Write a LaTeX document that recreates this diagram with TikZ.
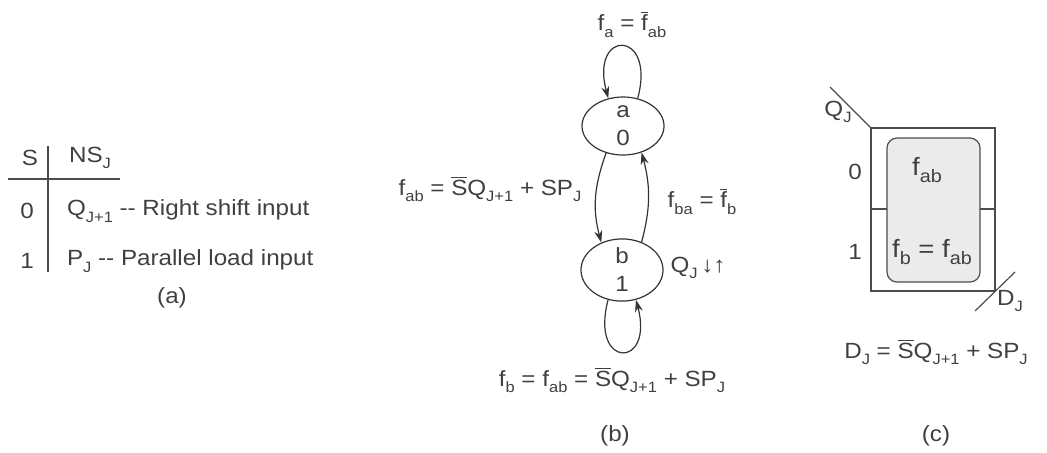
\documentclass[tikz,border=0pt]{standalone}
\usepackage{fontspec}
\setmainfont{Liberation Sans}[FakeStretch=1.1]
\usetikzlibrary{arrows.meta, positioning, shapes.geometric}

\newcommand{\sbar}[1]{$\overline{\mbox{#1}}$}
\newcommand{\sub}[1]{\raisebox{-0.55ex}{\fontsize{7.5}{8}\selectfont #1}}

\begin{document}
\begin{tikzpicture}[
    x=0.5pt, y=-0.5pt,
    every node/.style={font=\fontsize{11}{13}\selectfont, text=black!75},
    state/.style={ellipse, draw=black!80, line width=0.6pt, inner sep=0pt, minimum width=41pt,
                  minimum height=29pt, align=center, font=\fontsize{11}{14}\selectfont},
    arr/.style={-{Stealth[length=6pt, width=4pt]}, draw=black!80, line width=0.6pt},
    kline/.style={draw=black!70, line width=0.6pt}
]
\useasboundingbox (0,0) rectangle (1047,452);

% (a) next state table
\node (s)   at (30,158) {S};
\node[anchor=west] (ns) at (62,158) {NS\sub{J}};
\node (s0)  at (27,211) {0};
\node (s1)  at (27,261) {1};
\node[anchor=west] (q) at (60,211) {Q\sub{J+1} -{}- Right shift input};
\node[anchor=west] (p) at (60,261) {P\sub{J} -{}- Parallel load input};
\node (capa) at (172,298) {(a)};
\draw[kline] (8,179) -- (120,179);
\draw[kline] (48,146) -- (48,272);

% (b) state diagram
\node[state] (a) at (623,126) {a\\0};
\node[state, minimum height=30pt] (b) at (622,270) {b\\1};

\node (fa)  at (632,24) {f\sub{a} = \sbar{f}\sub{ab}};
\node (fab) at (490,189) {f\sub{ab} = \sbar{S}Q\sub{J+1} + SP\sub{J}};
\node (fba) at (702,201) {f\sub{ba} = \sbar{f}\sub{b}};
\node (qj)  at (698,268) {Q\sub{J}\,↓↑};
\node (fb)  at (612,380) {f\sub{b} = f\sub{ab} = \sbar{S}Q\sub{J+1} + SP\sub{J}};
\node (capb) at (615,436) {(b)};

\draw[arr] (a.62) .. controls +(75:36pt) and +(105:36pt) .. (a.118);
\draw[arr] (b.245) .. controls +(255:36pt) and +(285:36pt) .. (b.295);
\draw[arr] (a.238) to[out=250, in=105] (b.127);
\draw[arr] (b.55) to[out=75, in=285] (a.305);

% (c) K-map for D_J
\draw[kline] (871,128) rectangle (995,291);
\draw[kline] (871,209) -- (995,209);
\draw[kline, fill=black!8, rounded corners=5pt] (887,138) rectangle (980,282);
\draw[kline] (871,128) -- (830,87);
\draw[kline] (975,311) -- (1015,272);
\node (qk) at (838,112) {Q\sub{J}};
\node (dk) at (1010,301) {D\sub{J}};
\node (r0) at (855,172) {0};
\node (r1) at (855,252) {1};
\node (m0) at (927,170) {\fontsize{12.5}{14}\selectfont f\raisebox{-0.55ex}{\fontsize{9}{10}\selectfont ab}};
\node (m1) at (932,252) {\fontsize{12.5}{14}\selectfont f\raisebox{-0.55ex}{\fontsize{9}{10}\selectfont b} = f\raisebox{-0.55ex}{\fontsize{9}{10}\selectfont ab}};
\node (dj) at (936,352) {D\sub{J} = \sbar{S}Q\sub{J+1} + SP\sub{J}};
\node (capc) at (936,436) {(c)};
\end{tikzpicture}
\end{document}
